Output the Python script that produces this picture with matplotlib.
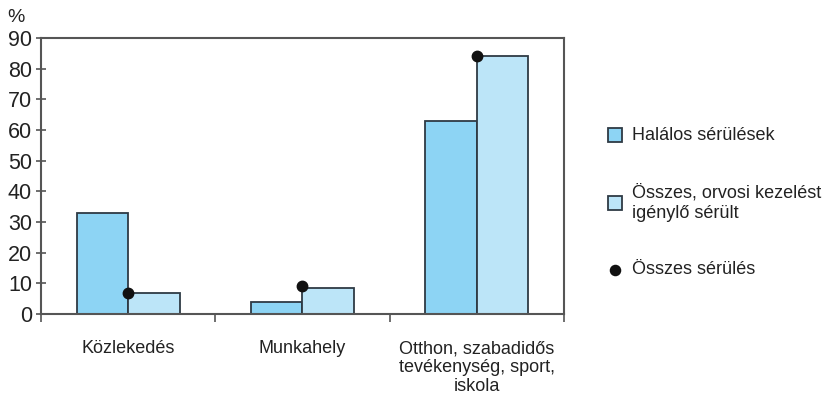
import matplotlib
matplotlib.use("Agg")
import matplotlib.pyplot as plt
from matplotlib.lines import Line2D
import numpy as np

plt.rcParams['font.family'] = ['Liberation Sans', 'DejaVu Sans']

categories = ["Közlekedés", "Munkahely", "Otthon, szabadidős\ntevékenység, sport,\niskola"]
halalos = [33, 4, 63]
osszes_orvosi = [7, 8.5, 84]
osszes_serules = [7, 9, 84]

legend_labels = ["Halálos sérülések",
                 "Összes, orvosi kezelést\nigénylő sérült",
                 "Összes sérülés"]
y_ticks = [0, 10, 20, 30, 40, 50, 60, 70, 80, 90]

dark_blue = "#8dd4f4"
light_blue = "#bce5f8"
edge = "#2e3a44"
spine_col = "#555555"

fig = plt.figure(figsize=(8.30, 3.94), dpi=100)
ax = fig.add_axes([0.0494, 0.203, 0.6301, 0.7006])

x = np.arange(len(categories))
w = 0.295
ax.bar(x, halalos, width=-w, align='edge', color=dark_blue, edgecolor=edge, linewidth=1.3, zorder=2)
ax.bar(x, osszes_orvosi, width=w, align='edge', color=light_blue, edgecolor=edge, linewidth=1.3, zorder=2)
ax.plot(x, osszes_serules, linestyle='none', marker='o', markersize=7.5, color='#111111', zorder=4)

ax.set_xlim(-0.5, 2.5)
ax.set_ylim(0, 90)

for s in ax.spines.values():
    s.set_color(spine_col)
    s.set_linewidth(1.5)

ax.set_yticks(y_ticks)
ax.set_yticklabels([str(v) for v in y_ticks], fontsize=15.5, color='#222222')
ax.tick_params(axis='y', direction='inout', length=7, width=1.2, color=spine_col, pad=3)

ax.set_xticks(x)
ax.set_xticklabels(categories, fontsize=13, color='#222222', linespacing=1.15)
ax.tick_params(axis='x', length=0, pad=19)
ax.set_xticks(np.arange(-0.5, 2.6, 1.0), minor=True)
ax.tick_params(axis='x', which='minor', direction='out', length=6, width=1.2, color=spine_col)

fig.text(16 / 830, 1 - 17 / 394, "%", fontsize=14, color='#222222', ha='center', va='center')

# legend drawn by hand in figure coordinates
leg_x_marker = 615 / 830
leg_x_text = 632 / 830
entries = [
    (135, 's', dark_blue, 10, legend_labels[0]),
    (203, 's', light_blue, 10, legend_labels[1]),
    (270, 'o', '#111111', 7, legend_labels[2]),
]
for ym, mk, col, ms, lab in entries:
    fig.add_artist(Line2D([leg_x_marker], [1 - ym / 394], marker=mk, markersize=ms,
                          markerfacecolor=col, markeredgecolor=edge if mk == 's' else col,
                          markeredgewidth=1.3, linestyle='none', transform=fig.transFigure))
    fig.text(leg_x_text, 1 - ym / 394, lab, fontsize=13, color='#222222',
             ha='left', va='center', linespacing=1.2)

fig.savefig("out.png", dpi=100)
